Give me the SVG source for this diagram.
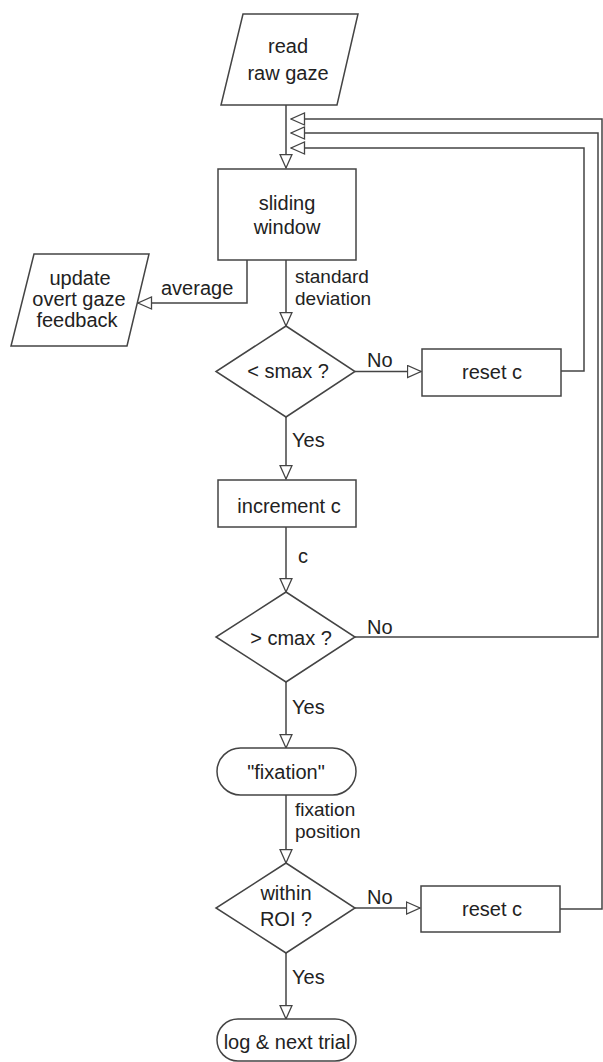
<svg xmlns="http://www.w3.org/2000/svg" width="603" height="1062" viewBox="0 0 603 1062">
<style>
.shape{fill:#fff;stroke:#444;stroke-width:1.5}
.conn{fill:none;stroke:#444;stroke-width:1.5}
text{font-family:"Liberation Sans",Arial,sans-serif;font-size:20px;fill:#222}
.c{text-anchor:middle}
.sm{font-size:19px}
</style>
<defs>
<marker id="arr" markerUnits="userSpaceOnUse" markerWidth="16" markerHeight="15" refX="14.5" refY="7" orient="auto" viewBox="0 0 16 15">
<path d="M1,1 L14.5,7 L1,13 Z" fill="#fff" stroke="#444" stroke-width="1.3"/>
</marker>
</defs>
<rect width="603" height="1062" fill="#fff"/>
<g id="connectors">
<path class="conn" d="M286,105 L286,168" marker-end="url(#arr)"/>
<path class="conn" d="M247,260 L247,303 L138,303" marker-end="url(#arr)"/>
<path class="conn" d="M286,260 L286,326" marker-end="url(#arr)"/>
<path class="conn" d="M355,371.5 L421,371.5" marker-end="url(#arr)"/>
<path class="conn" d="M561,371 L584,371 L584,148 L291,148" marker-end="url(#arr)"/>
<path class="conn" d="M286,417 L286,479" marker-end="url(#arr)"/>
<path class="conn" d="M286,527 L286,592" marker-end="url(#arr)"/>
<path class="conn" d="M355,637 L598,637 L598,133 L291,133" marker-end="url(#arr)"/>
<path class="conn" d="M286,682 L286,748" marker-end="url(#arr)"/>
<path class="conn" d="M286,795 L286,863" marker-end="url(#arr)"/>
<path class="conn" d="M355,908 L420,908" marker-end="url(#arr)"/>
<path class="conn" d="M560,909 L602,909 L602,119 L291,119" marker-end="url(#arr)"/>
<path class="conn" d="M286,953 L286,1019" marker-end="url(#arr)"/>
<text x="161" y="295">average</text>
<text class="sm" x="295" y="283">standard</text>
<text class="sm" x="295" y="304.5">deviation</text>
<text x="367" y="367">No</text>
<text x="292" y="447">Yes</text>
<text x="298" y="563">c</text>
<text x="367" y="634">No</text>
<text x="292" y="714">Yes</text>
<text class="sm" x="295" y="816">fixation</text>
<text class="sm" x="295" y="837.5">position</text>
<text x="367" y="904">No</text>
<text x="292" y="984">Yes</text>
</g>
<g id="read-raw-gaze">
<polygon class="shape" points="243,14 358,14 337,105 221,105"/>
<text class="c" x="288" y="53">read</text>
<text class="c" x="288" y="80">raw gaze</text>
</g>
<g id="sliding-window">
<rect class="shape" x="218" y="169" width="138" height="91"/>
<text class="c" x="287" y="210">sliding</text>
<text class="c" x="287" y="234">window</text>
</g>
<g id="update-feedback">
<polygon class="shape" points="34,254 149,254 127,346 11,346"/>
<text class="c" x="80" y="285">update</text>
<text class="c" x="79" y="306">overt gaze</text>
<text class="c" x="77" y="327">feedback</text>
</g>
<g id="smax">
<polygon class="shape" points="286,326 355,371.5 286,417 216,371.5"/>
<text class="c" x="288" y="378">&lt; smax ?</text>
</g>
<g id="reset-c-1">
<rect class="shape" x="422" y="349" width="139" height="47"/>
<text class="c" x="492" y="379">reset c</text>
</g>
<g id="increment-c">
<rect class="shape" x="218" y="480" width="138" height="47"/>
<text class="c" x="289" y="513">increment c</text>
</g>
<g id="cmax">
<polygon class="shape" points="286,592 355,637 286,682 216,637"/>
<text class="c" x="291" y="645">&gt; cmax ?</text>
</g>
<g id="fixation">
<rect class="shape" x="217" y="748" width="139" height="47" rx="23.5"/>
<text class="c" x="286" y="779">"fixation"</text>
</g>
<g id="within-roi">
<polygon class="shape" points="286,863 355,908 286,953 216,908"/>
<text class="c" x="286" y="900">within</text>
<text class="c" x="286" y="926">ROI ?</text>
</g>
<g id="reset-c-2">
<rect class="shape" x="421" y="886" width="139" height="46"/>
<text class="c" x="492" y="916">reset c</text>
</g>
<g id="log-next-trial">
<rect class="shape" x="217" y="1019" width="139" height="42" rx="21"/>
<text class="c" x="287" y="1049">log &amp; next trial</text>
</g>
</svg>
